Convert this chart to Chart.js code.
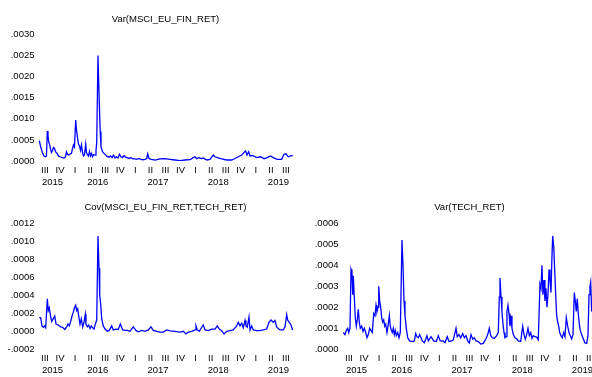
<!DOCTYPE html>
<html><head><meta charset="utf-8">
<script src="https://cdn.jsdelivr.net/npm/chart.js@4.4.1/dist/chart.umd.min.js"></script>
<style>
html,body{margin:0;padding:0;background:#fff;overflow:hidden;width:592px;height:377px;position:relative;}
canvas{position:absolute;}
</style></head><body>
<canvas id="c1" width="296" height="190" style="left:0;top:0"></canvas>
<canvas id="c2" width="296" height="187" style="left:0;top:190px"></canvas>
<canvas id="c3" width="296" height="187" style="left:304px;top:190px"></canvas>
<script>
// ---- axis labels ----
const quarterTicks = [2015.625,2015.875,2016.125,2016.375,2016.625,2016.875,2017.125,2017.375,2017.625,2017.875,2018.125,2018.375,2018.625,2018.875,2019.125,2019.375,2019.625];
const quarterLabels = ['III','IV','I','II','III','IV','I','II','III','IV','I','II','III','IV','I','II','III'];
const yearTicks = [2015.75,2016.5,2017.5,2018.5,2019.5];
const yearLabels = ['2015','2016','2017','2018','2019'];

// ---- Var(MSCI_EU_FIN_RET) ----
const finDates = [2015.530,2015.550,2015.586,2015.608,2015.633,2015.649,2015.663,2015.674,2015.686,2015.699,
2015.716,2015.732,2015.749,2015.766,2015.782,2015.799,2015.824,2015.849,2015.874,2015.907,
2015.940,2015.965,2015.981,2015.998,2016.015,2016.040,2016.064,2016.081,2016.098,2016.114,
2016.134,2016.147,2016.164,2016.181,2016.197,2016.214,2016.230,2016.247,2016.264,2016.280,
2016.300,2016.313,2016.330,2016.347,2016.363,2016.380,2016.396,2016.413,2016.430,2016.455,
2016.471,2016.483,2016.504,2016.526,2016.541,2016.554,2016.579,2016.604,2016.629,2016.654,
2016.687,2016.712,2016.737,2016.762,2016.787,2016.811,2016.836,2016.861,2016.886,2016.911,
2016.936,2016.961,2016.986,2017.019,2017.052,2017.085,2017.119,2017.152,2017.185,2017.218,
2017.251,2017.285,2017.314,2017.329,2017.351,2017.384,2017.417,2017.451,2017.484,2017.534,
2017.617,2017.700,2017.783,2017.866,2017.949,2018.032,2018.086,2018.115,2018.143,2018.181,
2018.219,2018.252,2018.309,2018.364,2018.418,2018.447,2018.485,2018.558,2018.641,2018.724,
2018.779,2018.833,2018.890,2018.928,2018.956,2018.978,2019.006,2019.028,2019.072,2019.139,
2019.205,2019.260,2019.315,2019.371,2019.414,2019.481,2019.554,2019.592,2019.625,2019.663,
2019.703,2019.736];
const finVar = [.00048,.00035,.00018,.00012,.00010,.00012,.00071,.00060,.00045,.00040,
.00028,.00020,.00025,.00032,.00030,.00022,.00018,.00012,.00010,.00008,
.00007,.00010,.00022,.00016,.00014,.00016,.00018,.00030,.00038,.00033,
.00097,.00075,.00055,.00040,.00035,.00025,.00038,.00020,.00012,.00015,
.00040,.00020,.00015,.00012,.00022,.00012,.00018,.00010,.00015,.00014,
.00025,.00043,.00250,.00137,.00070,.00034,.00022,.00018,.00015,.00011,
.00009,.00012,.00008,.00014,.00007,.00010,.00007,.00016,.00010,.00008,
.00013,.00009,.00008,.00006,.00008,.00005,.00005,.00004,.00006,.00004,
.00003,.00004,.00006,.00017,.00006,.00004,.00003,.00002,.00003,.00005,
.000055,.00004,.000024,.00001,.000024,.00003,.00008,.00010,.000055,.00008,
.000055,.00007,.000024,.00004,.00014,.00010,.00008,.00005,.000024,.000024,
.00006,.00010,.00014,.00020,.00024,.00014,.00022,.00012,.00013,.00008,
.00010,.000055,.00008,.00012,.00008,.00004,.00004,.00016,.00017,.00010,
.00012,.00013];

// ---- Cov(MSCI_EU_FIN_RET,TECH_RET) ----
const covDates = [2015.530,2015.553,2015.575,2015.596,2015.620,2015.636,2015.663,2015.679,2015.696,2015.719,
2015.736,2015.762,2015.786,2015.807,2015.845,2015.885,2015.918,2015.952,2015.985,2016.006,
2016.028,2016.051,2016.073,2016.094,2016.118,2016.134,2016.151,2016.167,2016.184,2016.206,
2016.227,2016.250,2016.272,2016.294,2016.305,2016.327,2016.350,2016.372,2016.393,2016.416,
2016.438,2016.460,2016.483,2016.504,2016.521,2016.533,2016.549,2016.566,2016.592,2016.621,
2016.659,2016.692,2016.732,2016.758,2016.803,2016.841,2016.875,2016.914,2016.953,2016.991,
2017.036,2017.090,2017.135,2017.173,2017.230,2017.285,2017.339,2017.384,2017.422,2017.479,
2017.534,2017.588,2017.645,2017.700,2017.783,2017.866,2017.920,2017.965,2018.003,2018.060,
2018.115,2018.131,2018.153,2018.186,2018.226,2018.252,2018.281,2018.335,2018.392,2018.447,
2018.485,2018.518,2018.558,2018.596,2018.641,2018.696,2018.750,2018.807,2018.833,2018.862,
2018.890,2018.916,2018.945,2018.961,2018.983,2019.011,2019.028,2019.056,2019.082,2019.139,
2019.194,2019.248,2019.305,2019.343,2019.376,2019.414,2019.443,2019.471,2019.526,2019.580,
2019.609,2019.637,2019.653,2019.680,2019.708,2019.736];
const covVals = [.000155,.00015,.00006,.000045,.00006,.00004,.00036,.00023,.00026,.00016,
.00011,.00014,.00017,.00008,.00007,.00005,.000045,.00002,.00005,.00008,
.00006,.00011,.00017,.00021,.00027,.00029,.00023,.00025,.00017,.00008,
.00014,.00005,.0001,.00019,.00008,.00005,.00007,.00003,.00006,.00004,
.000025,.00008,.000125,.00106,.0007,.0004,.0003,.00014,.00006,.000025,
0,.00001,.00006,.000015,.000025,.00002,.00008,.000015,.00001,.00001,
0,.00005,.00001,-.000005,.00001,0,.000015,.00005,.00001,0,
-.00001,-.00001,.000015,.000005,0,-.00001,0,-.00003,-.00001,0,
.000015,.00006,.000015,0,.000045,.00007,.000015,.000007,.000025,.000025,
.00006,.000025,.000007,-.00003,0,.000007,.000015,.00006,.0001,.00006,
.00009,.00004,.00012,.00006,.000045,.00016,.000015,.00006,.000015,.000007,
.000007,.000015,.000025,.0001,.000125,.0001,.00012,.000045,.000015,.000015,
.00005,.000185,.000125,.0001,.00007,.000015];

// ---- Var(TECH_RET) ----
const techDates = [2015.530,2015.558,2015.580,2015.603,2015.620,2015.641,2015.658,2015.674,2015.686,2015.696,
2015.712,2015.729,2015.746,2015.762,2015.779,2015.795,2015.812,2015.835,2015.857,2015.878,
2015.902,2015.923,2015.945,2015.968,2015.990,2016.011,2016.035,2016.056,2016.073,2016.089,
2016.106,2016.118,2016.134,2016.151,2016.167,2016.184,2016.201,2016.217,2016.234,2016.255,
2016.277,2016.294,2016.310,2016.327,2016.343,2016.360,2016.377,2016.393,2016.410,2016.433,
2016.455,2016.476,2016.504,2016.521,2016.538,2016.554,2016.576,2016.599,2016.632,2016.675,
2016.709,2016.732,2016.753,2016.775,2016.798,2016.820,2016.841,2016.875,2016.898,2016.919,
2016.941,2016.986,2017.031,2017.074,2017.107,2017.140,2017.185,2017.218,2017.256,2017.285,
2017.329,2017.356,2017.401,2017.422,2017.451,2017.479,2017.512,2017.539,2017.567,2017.595,
2017.622,2017.650,2017.678,2017.705,2017.733,2017.771,2017.811,2017.854,2017.899,2017.927,
2017.954,2017.977,2018.003,2018.037,2018.076,2018.103,2018.120,2018.131,2018.148,2018.164,
2018.181,2018.198,2018.214,2018.231,2018.247,2018.264,2018.281,2018.297,2018.314,2018.330,
2018.352,2018.380,2018.408,2018.435,2018.475,2018.508,2018.530,2018.551,2018.574,2018.596,
2018.618,2018.641,2018.662,2018.684,2018.713,2018.740,2018.767,2018.795,2018.812,2018.828,
2018.845,2018.862,2018.878,2018.895,2018.911,2018.928,2018.945,2018.961,2018.978,2018.994,
2019.006,2019.023,2019.039,2019.056,2019.072,2019.089,2019.106,2019.122,2019.144,2019.165,
2019.189,2019.210,2019.232,2019.255,2019.277,2019.298,2019.321,2019.343,2019.365,2019.381,
2019.398,2019.414,2019.431,2019.448,2019.464,2019.487,2019.514,2019.542,2019.570,2019.592,
2019.609,2019.625,2019.637,2019.653,2019.675,2019.708,2019.736];
const techVar = [.00008,.00007,.00009,.0001,.00008,.0001,.00038,.00036,.00026,.00035,
.00025,.00015,.00011,.00014,.00019,.00013,.0001,.00011,.000085,.0001,
.00008,.000055,.00007,.0001,.00009,.00008,.00017,.00016,.00021,.00018,
.0002,.0003,.00023,.0002,.00015,.00013,.00014,.00011,.00012,.00008,
.00012,.00016,.00011,.00009,.00008,.0001,.00007,.00009,.000065,.00008,
.000055,.00008,.00052,.0004,.00023,.00016,.0001,.000055,.00004,.000037,
.00004,.000075,.00006,.000055,.00007,.000055,.00004,.000032,.000048,.000065,
.00004,.00006,.00004,.000037,.000065,.00004,.00004,.000032,.00006,.000037,
.00004,.000045,.0001,.00006,.00007,.000055,.000075,.000055,.000065,.00004,
.00003,.00007,.000048,.000055,.00004,.000037,.000025,.000028,.00005,.00007,
.0001,.000065,.000055,.000052,.000065,.00008,.00025,.00034,.00025,.00018,
.00012,.00008,.000055,.00006,.00018,.00021,.00017,.00011,.00016,.0001,
.00007,.000055,.00005,.00004,.000037,.00011,.00007,.000048,.00007,.0001,
.000065,.00008,.000052,.000065,.00006,.000058,.000045,.00031,.00029,.0004,
.00026,.00033,.00023,.00029,.0002,.00026,.00038,.00033,.00027,.00044,
.00054,.00049,.00038,.00026,.00016,.00013,.00011,.00008,.000065,.000055,
.00008,.00006,.00015,.00011,.00008,.000065,.00005,.00007,.00027,.00023,
.00018,.00024,.00017,.00012,.00009,.00007,.00005,.00003,.000028,.000065,
.00026,.0003,.00032,.00018,.00022,.00025,.0002];

const FONT = {family: "'Liberation Sans', Arial, sans-serif", size: 9.5, weight: 'normal'};
const TXT = '#000';
const fmt = v => (v < -1e-12 ? '-' : '') + Math.abs(v).toFixed(4).replace(/^0/, '');

function panel(id, title, xs, ys, yMin, yMax, yStep, g) {
  const data = xs.map((x, i) => ({x: x, y: ys[i]}));
  new Chart(document.getElementById(id), {
    type: 'line',
    data: {datasets: [{data: data, borderColor: '#0000ff', borderWidth: 1.3, pointRadius: 0, tension: 0, fill: false}]},
    options: {
      responsive: false, animation: false, devicePixelRatio: 1,
      layout: {padding: {left: 0, right: 2.5, top: 0, bottom: g.padBottom}},
      plugins: {
        legend: {display: false}, tooltip: {enabled: false},
        title: {display: true, text: title, fullSize: false, color: TXT, font: FONT,
                padding: {top: g.titleTop, bottom: g.titleBottom}}
      },
      scales: {
        x: {type: 'linear', position: 'bottom', min: 2015.5, max: 2019.75, weight: 0, bounds: 'data',
            grid: {display: false, drawTicks: false}, border: {display: false},
            afterBuildTicks: s => { s.ticks = quarterTicks.map(v => ({value: v})); },
            afterFit: s => { s.height = g.qH; },
            ticks: {callback: (v, i) => quarterLabels[i], font: FONT, color: TXT, padding: g.qPad, autoSkip: false, maxRotation: 0}},
        x2: {type: 'linear', position: 'bottom', axis: 'x', min: 2015.5, max: 2019.75, weight: 1, bounds: 'data',
            grid: {display: false, drawTicks: false}, border: {display: false},
            afterBuildTicks: s => { s.ticks = yearTicks.map(v => ({value: v})); },
            afterFit: s => { s.height = g.yH; },
            ticks: {callback: (v, i) => yearLabels[i], font: FONT, color: TXT, padding: g.yPad, autoSkip: false, maxRotation: 0}},
        y: {type: 'linear', min: yMin, max: yMax,
            grid: {display: false, drawTicks: false}, border: {display: false},
            afterFit: s => { s.width = 37.5; },
            ticks: {stepSize: yStep, callback: v => fmt(v), font: FONT, color: TXT, padding: 3}}
      }
    }
  });
}

panel('c1', 'Var(MSCI_EU_FIN_RET)', finDates, finVar, 0, 0.003, 0.0005,
  {titleTop: 13.8, titleBottom: 9.1, qH: 12, qPad: 3.3, yH: 14, yPad: 3.3, padBottom: 3});
panel('c2', 'Cov(MSCI_EU_FIN_RET,TECH_RET)', covDates, covVals, -0.0002, 0.0012, 0.0002,
  {titleTop: 11.3, titleBottom: 10.6, qH: 12, qPad: 3, yH: 13, yPad: 3, padBottom: 2.7});
panel('c3', 'Var(TECH_RET)', techDates, techVar, 0, 0.0006, 0.0001,
  {titleTop: 11.3, titleBottom: 10.6, qH: 12, qPad: 3, yH: 13, yPad: 3, padBottom: 2.7});
</script>
</body></html>
